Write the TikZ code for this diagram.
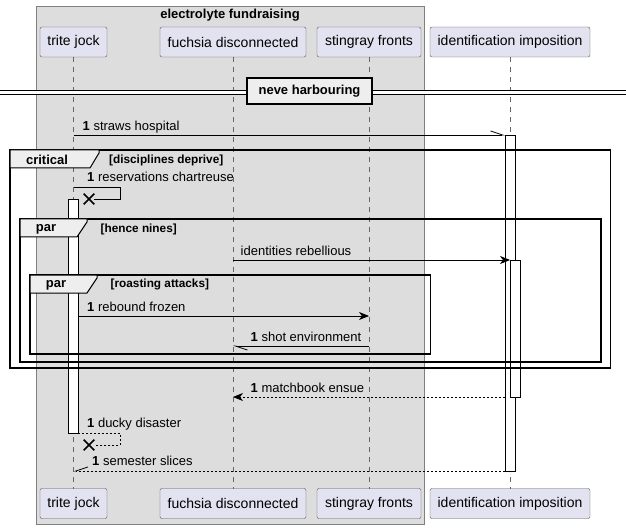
\documentclass[tikz,border=0pt]{standalone}
\usepackage{fontspec}
\setmainfont{Liberation Sans}
\usetikzlibrary{arrows.meta,positioning,shapes.misc}

\definecolor{partfill}{HTML}{E2E2F0}
\definecolor{boxfill}{HTML}{DDDDDD}
\definecolor{tabfill}{HTML}{EEEEEE}

\tikzset{
  part/.style={draw=black!65,fill=partfill,rounded corners=2pt,minimum height=30pt,inner sep=0pt,outer sep=0pt,font=\fontsize{14}{16}\selectfont},
  life/.style={draw=black!60,dash pattern=on 5pt off 5pt,line width=0.6pt},
  act/.style={draw=black,fill=white,line width=0.8pt,minimum width=10pt,inner sep=0pt,outer sep=0pt},
  msg/.style={draw=black,line width=0.8pt},
  ret/.style={msg,dash pattern=on 2pt off 2pt},
  full/.style={-{Stealth[length=10pt,width=8pt,inset=3pt]}},
  half/.style={-{Straight Barb[harpoon,length=12pt,width=8pt]}},
  halfs/.style={-{Straight Barb[harpoon,swap,length=12pt,width=8pt]}},
  lbl/.style={anchor=base west,inner sep=0pt,font=\fontsize{13}{15}\selectfont},
  frame/.style={draw=black,line width=1.5pt},
  tab/.style={draw=black,fill=tabfill,line width=1pt},
  kind/.style={inner sep=0pt,font=\bfseries\fontsize{13}{15}\selectfont},
  guard/.style={anchor=west,inner sep=0pt,font=\bfseries\fontsize{11.8}{13}\selectfont},
  kill/.style={draw=black,cross out,line width=1.6pt,minimum size=9pt,inner sep=0pt},
}

\begin{document}
\begin{tikzpicture}[x=1pt,y=-1pt]
\useasboundingbox (0,0) rectangle (626,529);

% box round the first three participants
\draw[draw=black!50,fill=boxfill] (36,6) rectangle (424,524);
\node[kind] (grp) at (230,15) {electrolyte fundraising};

% participants, top and bottom
\node[part,minimum width=67pt]  (tj) at (73.5,42) {trite jock};
\node[part,minimum width=146pt] (fd) at (233,42) {fuchsia disconnected};
\node[part,minimum width=104pt] (sf) at (369,42) {stingray fronts};
\node[part,minimum width=160pt] (ii) at (510,42) {identification imposition};
\node[part,minimum width=67pt]  (tjB) at (73.5,503.5) {trite jock};
\node[part,minimum width=146pt] (fdB) at (233,503.5) {fuchsia disconnected};
\node[part,minimum width=104pt] (sfB) at (369,503.5) {stingray fronts};
\node[part,minimum width=160pt] (iiB2) at (510,503.5) {identification imposition};

\draw[life] (tj) -- (tjB);
\draw[life] (fd) -- (fdB);
\draw[life] (sf) -- (sfB);
\draw[life] (ii) -- (iiB2);

% divider
\draw[line width=0.9pt,double,double distance=3pt] (0,92.5) -- (626,92.5);
\node[draw=black,fill=tabfill,line width=1.5pt,minimum width=125pt,minimum height=26pt,kind] (div) at (309.5,91) {neve harbouring};

% activations
\node[act,minimum height=336pt] (iiA) at (510,303) {};
\node[act,minimum height=137pt] (iiB) at (515,328.5) {};
\node[act,minimum height=234pt] (tjA) at (73,316) {};

% messages
\draw[msg,half] (tj |- iiA.north) -- (iiA.north west);
\node[lbl] (m1) at (82.5,131) {\textbf{1} straws hospital};

\node[kill] (k1) at (89,199) {};
\draw[msg] (tj |- 0,187) -| (120,199) -- (k1);
\node[lbl] (m2) at (87,182) {\textbf{1} reservations chartreuse};

\draw[msg,full] (fd |- iiB.north) -- (iiB.north west);
\node[lbl] (m3) at (240.5,255) {identities rebellious};

\draw[msg,full] (tjA.east |- 0,316) -- (sf |- 0,316);
\node[lbl] (m4) at (87,311) {\textbf{1} rebound frozen};

\draw[msg,half] (sf |- 0,346) -- (fd |- 0,346);
\node[lbl] (m5) at (250.5,341) {\textbf{1} shot environment};

\draw[ret,full] (iiA.west |- iiB.south) -- (fd |- iiB.south);
\node[lbl] (m6) at (250.5,392) {\textbf{1} matchbook ensue};

\node[kill] (k2) at (89,445) {};
\draw[ret] (tjA.south east) -| (120,445) -- (k2);
\node[lbl] (m7) at (87,427) {\textbf{1} ducky disaster};

\draw[ret,halfs] (iiA.south west) -- (tj |- iiA.south);
\node[lbl] (m8) at (92,465) {\textbf{1} semester slices};

% frames
\draw[frame] (10,150) rectangle (610.5,368);
\draw[tab] (10,150) -- (99,150) -- (99,153) -- (90,168) -- (10,168) -- cycle;
\node[kind] (crit) at (47,160) {critical};
\node[guard] (critg) at (109,160) {[disciplines deprive]};

\draw[frame] (20,219) rectangle (601,362);
\draw[tab] (20,219) -- (87,219) -- (87,222) -- (77,237) -- (20,237) -- cycle;
\node[kind] (par1) at (46,229) {par};
\node[guard] (par1g) at (100.5,229) {[hence nines]};

\draw[frame] (30,275) rectangle (430.5,354);
\draw[tab] (30,275) -- (97,275) -- (97,278) -- (87,293) -- (30,293) -- cycle;
\node[kind] (par2) at (56,285) {par};
\node[guard] (par2g) at (110.5,284) {[roasting attacks]};
\end{tikzpicture}
\end{document}
